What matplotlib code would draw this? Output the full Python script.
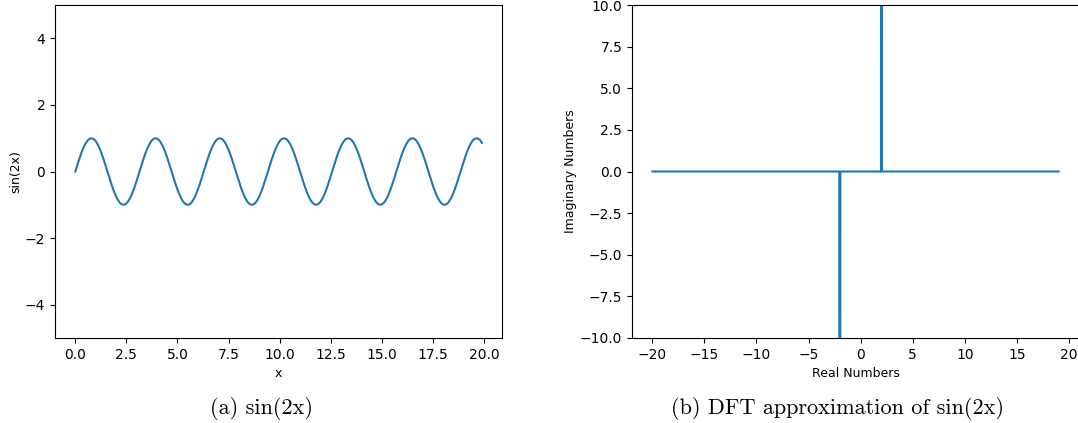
import numpy as np
import matplotlib
matplotlib.use("Agg")
import matplotlib.pyplot as plt

# left panel: samples of sin(2x)
x_values = np.arange(0, 20, 0.1)
y_values = np.sin(2 * x_values)

# right panel: imaginary part of the DFT on a frequency grid
freq_start, freq_stop, freq_step = -20, 19, 0.05
spike_freqs = [-2, 2]
spike_imag = [-100, 100]

freqs = np.round(np.arange(freq_start, freq_stop + freq_step / 2, freq_step), 2)
imag = np.zeros_like(freqs)
for f, v in zip(spike_freqs, spike_imag):
    imag[np.isclose(freqs, f)] = v

fig = plt.figure(figsize=(10.78, 4.23), dpi=100)

ax1 = fig.add_axes([0.051, 0.201, 0.415, 0.787])
ax1.plot(x_values, y_values, color="#1f77b4")
ax1.set_ylim(-5, 5)
ax1.set_xlabel("x", fontsize=9, labelpad=4)
ax1.set_ylabel("sin(2x)", fontsize=9, labelpad=2)

ax2 = fig.add_axes([0.5863, 0.201, 0.4145, 0.787])
ax2.plot(freqs, imag, color="#1f77b4")
ax2.set_ylim(-10, 10)
ax2.set_xlabel("Real Numbers", fontsize=9, labelpad=4)
ax2.set_ylabel("Imaginary Numbers", fontsize=9, labelpad=2)

cap = dict(family="cmr10", fontsize=16, ha="center", va="center")
fig.text(0.243, 0.035, "(a) sin(2x)", **cap)
fig.text(0.777, 0.035, "(b) DFT approximation of sin(2x)", **cap)

fig.savefig("out.png", dpi=100)
